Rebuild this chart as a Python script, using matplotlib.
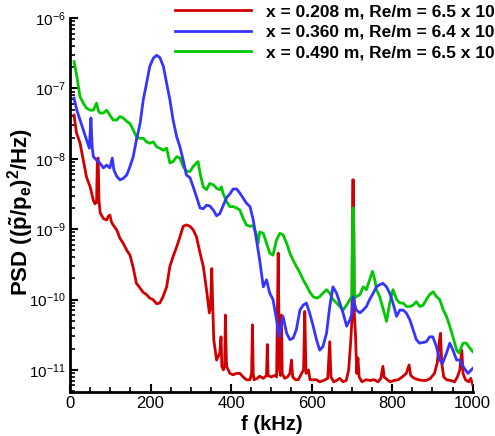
import matplotlib
matplotlib.use('Agg')
import matplotlib.pyplot as plt
import matplotlib.ticker as mticker
import numpy as np

plt.rcParams['font.family'] = ['Liberation Sans', 'DejaVu Sans']
plt.rcParams['mathtext.fontset'] = 'custom'
plt.rcParams['mathtext.rm'] = 'Liberation Sans'
plt.rcParams['mathtext.bf'] = 'Liberation Sans:bold'
plt.rcParams['mathtext.it'] = 'Liberation Sans:italic'

# x = 0.208 m  (frequency in kHz, log10 of PSD)
red_f = [10, 16, 25, 33, 41, 50, 58, 62, 66, 68, 70, 72, 75, 83, 91, 95, 99, 103, 107,
         116, 124, 132, 141, 149, 157, 165, 174, 182, 190, 198, 206, 215, 223, 231, 240,
         248, 256, 265, 273, 281, 289, 298, 306, 314, 323, 331, 339, 346, 349, 352, 354,
         357, 364, 372, 375, 377, 381, 384, 386, 388, 389, 397, 405, 413, 422, 430, 438,
         447, 451, 453, 455, 457, 465, 471, 480, 488, 490, 492, 500, 508, 513, 517, 520,
         523, 525, 527, 533, 540, 546, 550, 553, 560, 567, 575, 580, 583, 586, 592, 596,
         605, 612, 620, 630, 640, 645, 648, 655, 662, 670, 678, 686, 692, 697, 700, 702,
         704, 706, 709, 712, 715, 718, 725, 735, 745, 755, 765, 772, 777, 780, 788, 795,
         805, 815, 825, 835, 842, 846, 855, 865, 875, 885, 895, 905, 912, 917, 920, 923,
         928, 935, 945, 955, 962, 968, 973, 976, 982, 990, 995, 1000]
red_log = [-7.38, -7.63, -7.78, -8.02, -8.26, -8.40, -8.59, -8.64, -8.62, -8.00, -7.99,
           -8.60, -8.77, -8.85, -8.87, -8.82, -8.80, -8.90, -8.94, -9.01, -9.13, -9.20,
           -9.30, -9.37, -9.55, -9.77, -9.84, -9.90, -9.93, -9.98, -10.00, -10.06, -10.05,
           -9.96, -9.82, -9.53, -9.39, -9.25, -9.11, -8.96, -8.94, -8.96, -9.01, -9.11,
           -9.34, -9.53, -9.86, -10.19, -10.10, -9.56, -10.00, -10.57, -10.86, -10.76,
           -10.53, -10.95, -11.00, -10.95, -10.22, -10.80, -10.95, -11.05, -11.07, -11.05,
           -11.05, -11.10, -11.14, -11.14, -11.05, -10.36, -11.05, -11.14, -11.12, -11.09,
           -11.12, -11.08, -10.64, -11.08, -11.10, -11.08, -11.10, -9.34, -11.00, -11.08,
           -10.22, -11.05, -11.12, -11.10, -11.05, -10.86, -11.10, -11.14, -11.14, -11.05,
           -11.00, -10.17, -11.05, -11.00, -11.14, -11.14, -11.14, -11.17, -11.15, -11.12,
           -10.60, -11.10, -11.17, -11.15, -11.12, -11.17, -11.15, -11.00, -10.60, -10.30,
           -8.30, -8.30, -10.20, -10.50, -11.05, -10.83, -11.10, -11.17, -11.14, -11.15,
           -11.14, -11.17, -11.12, -10.95, -11.10, -11.14, -11.17, -11.15, -11.14, -11.10,
           -11.05, -10.93, -11.08, -11.12, -11.14, -11.15, -11.15, -11.12, -11.05, -10.90,
           -10.60, -10.48, -10.90, -11.10, -11.14, -11.15, -11.17, -11.10, -11.00, -10.72,
           -11.05, -11.14, -11.17, -11.12, -11.21]

# x = 0.360 m
blue_f = [10, 17, 25, 33, 41, 48, 52, 55, 58, 66, 74, 83, 91, 99, 105, 109, 116, 124, 132,
          141, 149, 157, 165, 174, 182, 190, 198, 207, 215, 223, 232, 240, 248, 256, 265,
          273, 281, 289, 298, 306, 314, 323, 331, 339, 347, 356, 364, 372, 380, 389, 397,
          405, 414, 422, 430, 438, 447, 455, 463, 471, 480, 488, 496, 504, 513, 519, 525,
          529, 538, 546, 554, 562, 571, 579, 587, 595, 604, 612, 620, 628, 637, 645, 653,
          662, 670, 678, 687, 695, 700, 703, 706, 711, 720, 728, 736, 744, 753, 761, 769,
          777, 786, 794, 802, 811, 819, 827, 835, 844, 852, 860, 868, 877, 885, 893, 901,
          910, 918, 925, 935, 943, 951, 960, 968, 976, 988, 1000]
blue_log = [-7.14, -7.31, -7.45, -7.59, -7.73, -7.85, -7.42, -7.83, -7.97, -8.02, -8.06,
            -8.13, -8.09, -8.13, -7.99, -8.16, -8.25, -8.30, -8.28, -8.23, -8.11, -7.97,
            -7.73, -7.50, -7.16, -6.93, -6.69, -6.57, -6.53, -6.56, -6.69, -6.93, -7.16,
            -7.45, -7.69, -7.83, -8.02, -8.23, -8.27, -8.40, -8.54, -8.70, -8.71, -8.66,
            -8.67, -8.73, -8.81, -8.78, -8.67, -8.55, -8.50, -8.43, -8.43, -8.49, -8.56,
            -8.63, -8.68, -8.87, -9.15, -9.44, -9.82, -9.72, -9.91, -10.00, -10.29, -10.53,
            -10.34, -10.24, -10.48, -10.57, -10.55, -10.43, -10.15, -10.08, -10.05, -10.19,
            -10.38, -10.57, -10.72, -10.67, -10.48, -10.10, -9.82, -9.91, -10.05, -10.19,
            -10.38, -10.29, -10.20, -9.96, -10.05, -10.15, -10.19, -10.15, -10.10, -10.00,
            -9.91, -9.82, -9.79, -9.77, -9.82, -9.91, -10.05, -10.24, -10.15, -10.15,
            -10.19, -10.29, -10.43, -10.57, -10.62, -10.61, -10.60, -10.53, -10.53, -10.67,
            -10.86, -10.91, -10.76, -10.62, -10.72, -10.86, -10.86, -10.95, -11.05, -10.98]

# x = 0.490 m
green_f = [10, 17, 21, 25, 33, 41, 50, 58, 66, 70, 74, 83, 91, 99, 107, 116, 124, 132, 141,
           149, 157, 165, 174, 182, 190, 198, 207, 215, 223, 232, 240, 248, 256, 265, 273,
           281, 289, 298, 306, 314, 318, 323, 331, 339, 347, 356, 364, 372, 376, 380, 389,
           397, 405, 414, 422, 430, 438, 447, 455, 463, 467, 471, 480, 488, 496, 504, 513,
           521, 529, 538, 546, 554, 562, 571, 579, 587, 595, 604, 612, 620, 628, 637, 645,
           653, 662, 670, 678, 687, 695, 700, 702, 704, 706, 711, 720, 728, 736, 744, 751,
           757, 761, 769, 777, 786, 794, 802, 811, 819, 827, 836, 844, 852, 860, 869, 877,
           885, 893, 902, 910, 918, 927, 935, 943, 951, 960, 966, 976, 984, 993, 1000]
green_log = [-6.62, -6.83, -6.98, -7.12, -7.21, -7.28, -7.31, -7.31, -7.21, -7.31, -7.35,
             -7.35, -7.31, -7.38, -7.45, -7.45, -7.40, -7.42, -7.47, -7.50, -7.59, -7.69,
             -7.71, -7.71, -7.76, -7.78, -7.76, -7.83, -7.85, -7.88, -7.85, -8.06, -8.04,
             -7.97, -7.99, -8.11, -8.18, -8.18, -8.11, -8.06, -8.04, -8.21, -8.40, -8.44,
             -8.35, -8.37, -8.42, -8.44, -8.40, -8.49, -8.61, -8.68, -8.68, -8.70, -8.73,
             -8.85, -8.94, -8.96, -8.95, -9.08, -9.20, -9.04, -9.06, -9.20, -9.34, -9.37,
             -9.15, -9.06, -9.08, -9.20, -9.34, -9.44, -9.53, -9.62, -9.72, -9.80, -9.89,
             -9.96, -9.98, -9.96, -9.91, -9.86, -9.91, -10.00, -10.05, -10.10, -10.15,
             -10.08, -10.00, -9.95, -8.70, -8.70, -9.98, -9.96, -9.93, -9.82, -9.86, -9.72,
             -9.60, -9.72, -9.86, -9.96, -10.12, -10.31, -10.05, -9.86, -10.00, -10.05,
             -10.05, -10.10, -10.10, -10.08, -10.03, -10.10, -10.08, -10.00, -9.93, -9.89,
             -9.96, -10.00, -10.15, -10.24, -10.38, -10.53, -10.72, -10.76, -10.62, -10.62,
             -10.69, -10.74]

labels = ['x = 0.208 m, Re/m = 6.5 x 10\u2076',
          'x = 0.360 m, Re/m = 6.4 x 10\u2076',
          'x = 0.490 m, Re/m = 6.5 x 10\u2076']

fig = plt.figure(figsize=(4.95, 4.36), dpi=100)
ax = fig.add_axes([70 / 495, 1 - 391.7 / 436, 402.7 / 495, 373.7 / 436])

l1, = ax.plot(red_f, np.power(10.0, red_log), color='#d00000', lw=2, zorder=2)
l3, = ax.plot(green_f, np.power(10.0, green_log), color='#00c800', lw=2, zorder=3)
l2, = ax.plot(blue_f, np.power(10.0, blue_log), color='#3535ff', lw=2, zorder=4)

ax.set_yscale('log')
ax.set_xlim(0, 1000)
ax.set_ylim(10 ** -11.31, 1e-6)

ax.spines['top'].set_visible(False)
ax.spines['right'].set_visible(False)
for s in ('left', 'bottom'):
    ax.spines[s].set_linewidth(2)

ax.xaxis.set_major_locator(mticker.MultipleLocator(200))
ax.xaxis.set_minor_locator(mticker.MultipleLocator(50))
ax.yaxis.set_major_locator(mticker.LogLocator(base=10, numticks=20))
ax.yaxis.set_minor_locator(mticker.LogLocator(base=10, subs=np.arange(2, 10), numticks=20))
ax.yaxis.set_minor_formatter(mticker.NullFormatter())
ax.tick_params(which='major', direction='in', length=6, width=1.5, labelsize=12, pad=3)
ax.tick_params(axis='y', which='major', labelsize=11)
ax.tick_params(which='minor', direction='in', length=3.5, width=1.2)

ax.set_xlabel('f (kHz)', fontsize=14.5, fontweight='bold', labelpad=3)
ax.set_ylabel(r'PSD (($\mathbf{\tilde{p}}$/p$_{\mathbf{e}}$)$^{\mathbf{2}}$/Hz)',
              fontsize=16, fontweight='bold')
ax.yaxis.set_label_coords(-0.085, 0.48)

fig.legend([l1, l2, l3], labels, loc='upper left', bbox_to_anchor=(175 / 495, 0.99),
           frameon=False, borderpad=0, borderaxespad=0, handlelength=4.4,
           handletextpad=0.85, labelspacing=0.3,
           prop={'size': 12.5, 'weight': 'bold'})

fig.savefig('out.png', dpi=100)
